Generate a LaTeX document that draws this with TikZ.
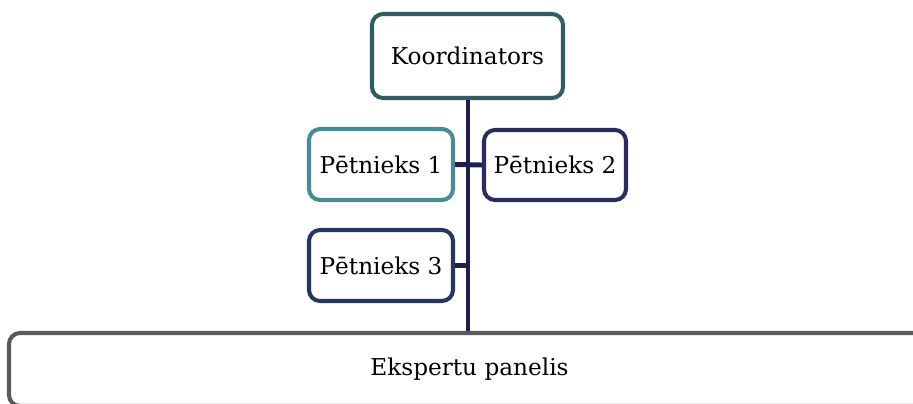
\documentclass[tikz,border=0pt]{standalone}
\usepackage{fontspec}
\setmainfont{DejaVu Serif}
\definecolor{koordcol}{HTML}{2F5D62}
\definecolor{tealcol}{HTML}{4A8C94}
\definecolor{navycol}{HTML}{2A2C5E}
\definecolor{navytwo}{HTML}{253660}
\definecolor{trunkcol}{HTML}{1E1F4D}
\definecolor{panelcol}{HTML}{5A5A5A}
\tikzset{
	box/.style={draw, rounded corners=0.22cm, line width=2.3pt, fill=white, inner sep=0pt, font=\fontsize{13.2}{16}\selectfont},
	link/.style={draw=trunkcol, line width=2.8pt}
}
\begin{document}
\begin{tikzpicture}[x=0.02cm, y=-0.02cm]
	\useasboundingbox (0,0) rectangle (913,403);
	\clip (0,0) rectangle (913,403);
			\node [box, draw=panelcol, minimum width=921*0.02cm, minimum height=73*0.02cm] (panel) at (469.5,369.5) {Ekspertu panelis};
			\node [box, draw=koordcol, minimum width=191*0.02cm, minimum height=84*0.02cm] (koord) at (467.5,56) {Koordinators};
			\coordinate (t3) at (468,265.5);
			\draw [link] (koord.south -| t3) to (panel.north -| t3);
			\node [box, draw=tealcol, minimum width=144*0.02cm, minimum height=71*0.02cm] (p1) at (381,164.5) {Pētnieks 1};
			\node [box, draw=navycol, minimum width=142*0.02cm, minimum height=70*0.02cm] (p2) at (555,165) {Pētnieks 2};
			\node [box, draw=navytwo, minimum width=144*0.02cm, minimum height=71*0.02cm] (p3) at (381,265.5) {Pētnieks 3};
			\draw [link] (p1.east) to (p2.west);
			\draw [link] (p3.east) to (t3);
	\end{tikzpicture}
\end{document}
